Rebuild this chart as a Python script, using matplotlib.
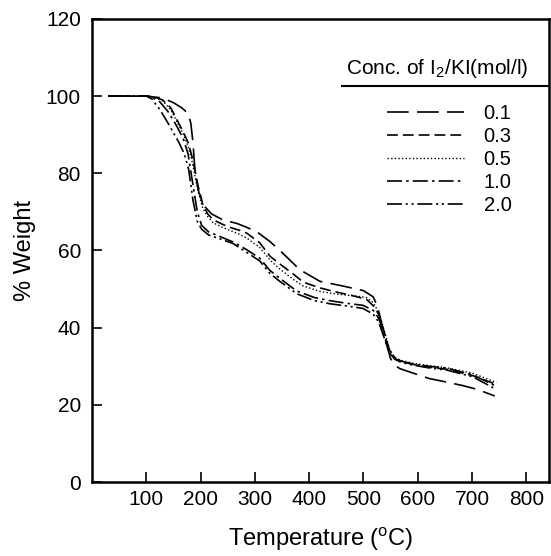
import matplotlib
matplotlib.use("Agg")
from matplotlib import pyplot as plt
from matplotlib.lines import Line2D

plt.rcParams['font.family'] = ['Liberation Sans', 'DejaVu Sans']

# values
t_01 = [30, 100, 130, 150, 165, 177, 182, 186, 190, 197, 207, 220, 240, 267, 285, 304, 328,
        350, 383, 420, 462, 500, 518, 526, 534, 542, 550, 558, 567, 590, 622, 650, 683, 710, 742]
w_01 = [100, 100, 99.5, 98.3, 97, 95.5, 93, 88, 80, 75, 71.5, 69.5, 68, 67, 66, 64.8, 62.3,
        59.5, 55, 52, 50.8, 49.6, 48, 45.5, 41, 36, 32, 30.3, 29.4, 28.3, 26.8, 26, 25, 24, 22.3]

t_03 = [30, 100, 115, 130, 145, 156, 167, 177, 183, 188, 195, 204, 213, 223, 240, 254, 270, 285,
        309, 328, 346, 370, 389, 420, 451, 480, 506, 518, 528, 538, 548, 558, 570, 591, 620, 654,
        701, 745]
w_03 = [100, 100, 99.8, 99, 97, 94, 91, 88, 85, 82, 77, 72, 69.5, 68, 66.8, 66, 65.3, 64.5,
        62, 58.5, 56.5, 54, 51.8, 50.3, 49.2, 48.3, 47.3, 45.7, 43.5, 39, 34, 32, 31.2, 30.5, 29.8,
        29.2, 27.6, 25.3]

t_05 = [30, 100, 115, 130, 145, 156, 167, 177, 183, 188, 195, 204, 213, 223, 240, 254, 270, 285,
        309, 328, 346, 370, 389, 420, 451, 480, 506, 518, 528, 538, 548, 558, 570, 591, 620, 654,
        701, 745]
w_05 = [100, 100, 99.7, 98.8, 96.5, 93.5, 90.5, 87, 84, 80.5, 75.5, 71, 68.8, 67.2, 66, 65.2, 64.3, 63.2,
        60.8, 57.5, 55.2, 52.6, 50.8, 49.4, 48.7, 48.3, 47.8, 46.5, 44, 39.5, 34.5, 32.3, 31.5, 30.8, 30.2,
        29.6, 28.2, 25.8]

t_10 = [30, 100, 110, 125, 140, 155, 168, 177, 186, 194, 202, 215, 236, 260, 285, 309, 328, 346,
        377, 410, 438, 470, 499, 518, 528, 538, 548, 558, 570, 591, 620, 654, 701, 745]
w_10 = [100, 100, 99.7, 98.5, 96, 92.5, 89, 85, 77, 70, 66.5, 64.8, 63.6, 62.2, 60.2, 58, 54.8, 52.8,
        49.5, 47.8, 47, 46.3, 45.8, 44.5, 42.5, 38.5, 34.2, 32.2, 31.3, 30.6, 30, 29.5, 27.8, 24.8]

t_20 = [30, 100, 110, 125, 140, 150, 160, 170, 178, 186, 194, 202, 215, 236, 260, 285, 309, 328,
        346, 377, 410, 438, 470, 499, 518, 528, 538, 548, 558, 570, 591, 620, 654, 701, 745]
w_20 = [100, 100, 99.3, 96.5, 93, 90.5, 88, 85, 81, 73, 67.5, 65.5, 64, 63, 61.8, 59.5, 57.3, 54,
        52, 48.8, 47, 46.2, 45.6, 45, 43.5, 41.5, 37.5, 33.5, 31.8, 31, 30.3, 29.6, 29, 27.3, 24]

labels = ["0.1", "0.3", "0.5", "1.0", "2.0"]
series = [(t_01, w_01), (t_03, w_03), (t_05, w_05), (t_10, w_10), (t_20, w_20)]
styles = [(0, (13, 5)), (0, (6.5, 3)), (0, (1, 1.6)), (0, (9, 2.5, 1.5, 2.5)),
          (0, (9, 2.2, 1.3, 2.2, 1.3, 2.2))]
widths = [1.2, 1.2, 1.0, 1.2, 1.2]

fig = plt.figure(figsize=(5.51, 5.56), dpi=100)
ax = fig.add_axes([0.167, 0.133, 0.8294, 0.833])

for (t, w), lab, ls, lw in zip(series, labels, styles, widths):
    ax.plot(t, w, color="black", linestyle=ls, linewidth=lw, label=lab)

ax.set_xlim(0, 842)
ax.set_ylim(0, 120)
ax.set_xticks([100, 200, 300, 400, 500, 600, 700, 800])
ax.set_yticks([0, 20, 40, 60, 80, 100, 120])
ax.tick_params(direction="in", length=7, width=1.2, labelsize=15)
ax.tick_params(axis="x", pad=6)
ax.tick_params(axis="y", pad=8)
for s in ax.spines.values():
    s.set_linewidth(1.8)

ax.set_xlabel("Temperature ($^{\\mathregular{o}}$C)", fontsize=17, labelpad=11)
ax.set_ylabel("% Weight", fontsize=17, labelpad=7)

# legend title with rule underneath
ax.text(0.955, 0.893, "Conc. of I$_\\mathregular{2}$/KI(mol/l)", transform=ax.transAxes,
        ha="right", va="center", fontsize=15)
ax.add_line(Line2D([0.547, 1.0], [0.856, 0.856], transform=ax.transAxes,
                   color="black", linewidth=1.5))

ax.legend(loc="upper left", bbox_to_anchor=(0.6455, 0.817), frameon=False, fontsize=14.5,
          handlelength=3.8, handletextpad=1.0, labelspacing=0.2, borderpad=0, borderaxespad=0)

fig.savefig("out.png", dpi=100)
